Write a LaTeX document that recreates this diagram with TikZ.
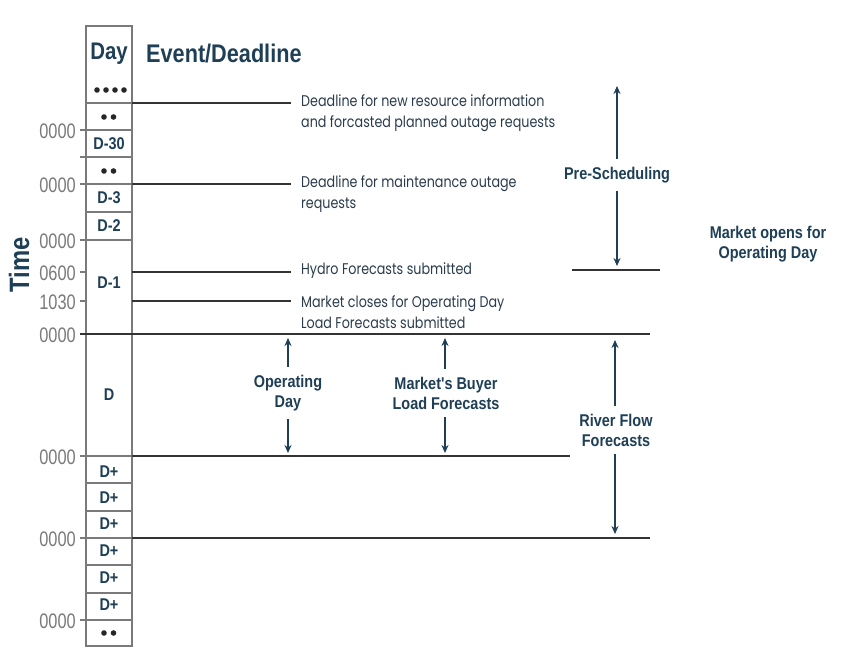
\documentclass[tikz,border=0pt]{standalone}
\usepackage{fontspec}
\setmainfont{Liberation Sans}
\newfontfamily\cnd[FakeStretch=0.85]{Liberation Sans}
\newfontfamily\numf[FakeStretch=0.78]{Liberation Sans}
\newfontfamily\bodyf[FakeStretch=0.82]{Poppins}
\usetikzlibrary{arrows.meta}
\definecolor{navy}{HTML}{1E3F56}
\definecolor{evtxt}{HTML}{2A3C4C}
\definecolor{colgray}{HTML}{7A7A7A}
\definecolor{linec}{HTML}{333333}
\begin{document}
\begin{tikzpicture}[x=1pt,y=-1pt,
  lab/.style={font=\cnd\bfseries\fontsize{17}{20}\selectfont, text=navy, align=center, inner xsep=2pt, inner ysep=8pt},
  hdr/.style={font=\cnd\bfseries\fontsize{24}{26}\selectfont, text=navy, inner sep=0pt},
  cell/.style={font=\cnd\bfseries\fontsize{17}{18}\selectfont, text=navy, inner sep=0pt},
  ev/.style={font=\bodyf\fontsize{15.5}{21}\selectfont, text=evtxt, anchor=west, align=left, inner sep=0pt},
  num/.style={font=\numf\fontsize{21}{22}\selectfont, text=colgray, anchor=east, inner sep=0pt},
  arr/.style={draw=navy, line width=1.3pt, -{Stealth[length=8pt,width=7pt]}},
  hline/.style={draw=linec, line width=1.6pt},
  colline/.style={draw=colgray, line width=1.3pt},
  dot/.style={fill=black!85, draw=none}]
\useasboundingbox (0,0) rectangle (852,662);
\fill[white] (0,0) rectangle (852,662);

% column
\draw[colline] (86,26) rectangle (132,646);
\foreach \y in {103,130,157,184,212,240,334,456,483,511,538,565,593,620}
  \draw[colline] (86,\y) -- (132,\y);
% ticks
\foreach \y in {130,157,184,240,272,301,334,456,538,620}
  \draw[colline] (80,\y) -- (86,\y);

% time labels
\node[num] (t1) at (76,131) {0000};
\node[num] (t2) at (76,185) {0000};
\node[num] (t3) at (76,241) {0000};
\node[num] (t4) at (76,273) {0600};
\node[num] (t5) at (76,302) {1030};
\node[num] (t6) at (76,335) {0000};
\node[num] (t7) at (76,457) {0000};
\node[num] (t8) at (76,539) {0000};
\node[num] (t9) at (76,621) {0000};

\node[hdr, rotate=90, font=\cnd\bfseries\fontsize{28}{30}\selectfont] (time) at (19,265) {Time};

% headers
\node[hdr] (day) at (109,54) {Day};
\node[hdr, anchor=west, font=\cnd\bfseries\fontsize{25.5}{27}\selectfont] (evd) at (146,54) {Event/Deadline};

% cell labels
\foreach \x in {97,106,115,124} \fill[dot] (\x,90) circle (2.8);
\foreach \yy in {117,171,633} {\fill[dot] (104,\yy) circle (2.8); \fill[dot] (113.5,\yy) circle (2.8);}
\node[cell] (c30) at (109,144) {D-30};
\node[cell] (c3) at (109,198) {D-3};
\node[cell] (c2) at (109,226) {D-2};
\node[cell] (c1) at (109,283) {D-1};
\node[cell] (c0) at (109,395) {D};
\foreach \yy [count=\i] in {472,498,524,551,578,605}
  \node[cell] (cp\i) at (109,\yy) {D+};

% event lines
\draw[hline] (132,103) -- (291,103);
\draw[hline] (132,184) -- (291,184);
\draw[hline] (132,272) -- (291,272);
\draw[hline] (132,301) -- (291,301);
\draw[hline] (80,334) -- (650,334);
\draw[hline] (132,456) -- (570,456);
\draw[hline] (132,538) -- (650,538);
\draw[hline] (572,270) -- (660,270);

% event texts
\node[ev] (e1) at (301,113) {Deadline for new resource information\\and forcasted planned outage requests};
\node[ev] (e2) at (301,194) {Deadline for maintenance outage\\requests};
\node[ev] (e3) at (301,271) {Hydro Forecasts submitted};
\node[ev] (e4) at (301,312) {Market closes for Operating Day\\Load Forecasts submitted};

% spans
\node[lab] (pre) at (617,175) {Pre-Scheduling};
\coordinate (preT) at (617,86);
\coordinate (preB) at (617,266);
\draw[arr] (pre) -- (preT);
\draw[arr] (pre) -- (preB);

\node[lab, inner ysep=0pt] (mo) at (768,244) {Market opens for\\Operating Day};

\node[lab] (od) at (288,393) {Operating\\Day};
\coordinate (odT) at (288,338);
\coordinate (odB) at (288,453);
\draw[arr] (od) -- (odT);
\draw[arr] (od) -- (odB);

\node[lab] (mb) at (446,393) {Market's Buyer\\Load Forecasts};
\coordinate (mbT) at (445,338);
\coordinate (mbB) at (445,453);
\draw[arr] (mb.north -| mbT) -- (mbT);
\draw[arr] (mb.south -| mbB) -- (mbB);

\node[lab] (rf) at (616,430) {River Flow\\Forecasts};
\coordinate (rfT) at (615,340);
\coordinate (rfB) at (615,534);
\draw[arr] (rf.north -| rfT) -- (rfT);
\draw[arr] (rf.south -| rfB) -- (rfB);
\end{tikzpicture}
\end{document}
